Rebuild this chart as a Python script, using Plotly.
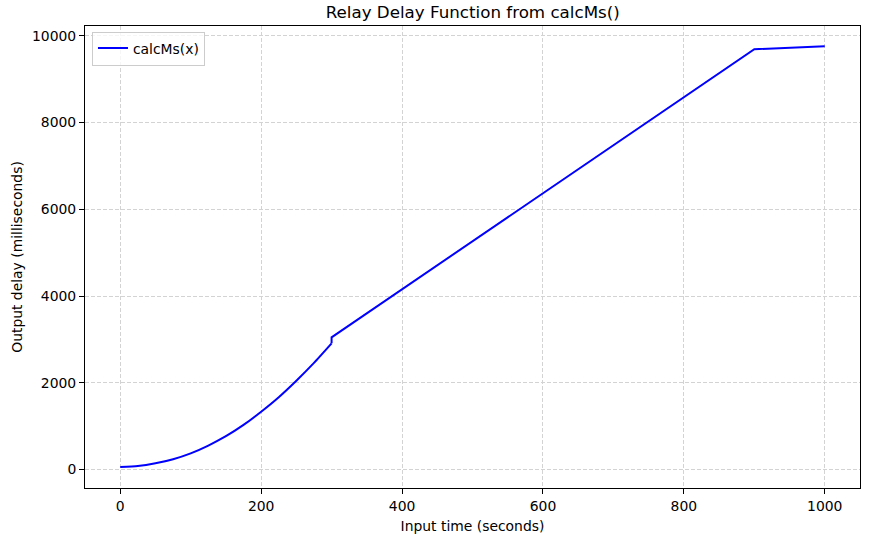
import plotly.graph_objects as go

# input time (s) and output delay (ms)
# curved part up to 300 s
curve_s = [0, 25, 50, 75, 100, 125, 150, 175, 200, 225, 250, 275, 300]
curve_ms = [60, 82, 145, 240, 375, 555, 770, 1030, 1335, 1670, 2050, 2460, 2910]
# straight part after the jump at 300 s
linear_s = [300, 300, 900, 1000]
linear_ms = [2910, 3050, 9690, 9760]

x_ticks = [0, 200, 400, 600, 800, 1000]
y_ticks = [0, 2000, 4000, 6000, 8000, 10000]

font = "DejaVu Sans"
blue = "#0000ff"

curve = go.Scatter(
    x=curve_s, y=curve_ms,
    mode="lines", name="calcMs(x)", legendgroup="calc",
    line=dict(color=blue, width=2, shape="spline", smoothing=0.6),
)
straight = go.Scatter(
    x=linear_s, y=linear_ms,
    mode="lines", name="calcMs(x)", legendgroup="calc", showlegend=False,
    line=dict(color=blue, width=2),
)

axis_common = dict(
    showline=True,
    linecolor="black",
    linewidth=1,
    mirror=True,
    ticks="outside",
    ticklen=5,
    tickcolor="black",
    showgrid=True,
    gridcolor="#d3d3d3",
    griddash="4px,2px",
    gridwidth=1,
    zeroline=False,
    tickfont=dict(family=font, size=13.9, color="black"),
    tickformat="d",
)

layout = go.Layout(
    width=873,
    height=546,
    paper_bgcolor="white",
    plot_bgcolor="white",
    margin=dict(l=85, r=13, t=26, b=58),
    title=dict(
        text="Relay Delay Function from calcMs()",
        x=0.5415, xanchor="center",
        y=0.978, yanchor="middle",
        font=dict(family=font, size=16.7, color="black"),
    ),
    xaxis=dict(
        axis_common,
        range=[-50, 1050],
        tickvals=x_ticks,
        automargin=False,
        title=dict(text="Input time (seconds)", standoff=8,
                   font=dict(family=font, size=13.9, color="black")),
    ),
    yaxis=dict(
        axis_common,
        range=[-424, 10226],
        tickvals=y_ticks,
        automargin=False,
        title=dict(text="Output delay (milliseconds)", standoff=6,
                   font=dict(family=font, size=13.9, color="black")),
    ),
    showlegend=True,
    legend=dict(
        x=0.009, y=0.988, xanchor="left", yanchor="top",
        bgcolor="rgba(255,255,255,0.8)",
        bordercolor="#cccccc",
        borderwidth=1,
        font=dict(family=font, size=13.9, color="black"),
        itemwidth=30,
        tracegroupgap=0,
    ),
)

fig = go.Figure(data=[curve, straight], layout=layout)
# drop the browser's default body margin so the figure sits at the page corner
fig.write_html("out.html", config={"displayModeBar": False},
               post_script="document.body.style.margin='0';")
